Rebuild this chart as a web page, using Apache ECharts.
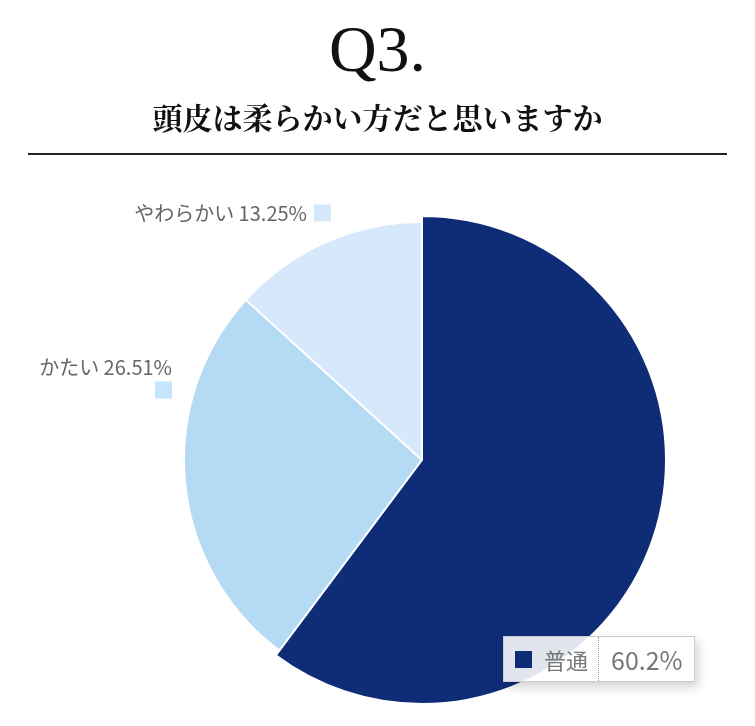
<!DOCTYPE html>
<html><head><meta charset="utf-8">
<script src="https://cdn.jsdelivr.net/npm/echarts@6/dist/echarts.min.js"></script>
<style>html,body{margin:0;padding:0;background:#fff}#c{width:755px;height:726px}</style>
</head><body><div id="c"></div>
<script>
var titleText = 'Q3.';
var subtitleText = '頭皮は柔らかい方だと思いますか';
var categories = ['普通', 'かたい', 'やわらかい'];
var percentLabels = ['60.2%', '26.51%', '13.25%'];
var values = [60.2, 26.51, 13.25];
var sliceColors = ['#0f2c76', '#b4daf4', '#d6e8fc'];
var markerColors = ['#0f2c76', '#c4e6fb', '#d6e8fc'];

var chart = echarts.init(document.getElementById('c'), null, {renderer: 'canvas'});
var labelFont = '"Noto Sans CJK JP", "Noto Sans", sans-serif';

var data = categories.map(function (c, i) {
  var item = {name: c, value: values[i], itemStyle: {color: sliceColors[i]}, emphasis: {itemStyle: {color: sliceColors[i]}}};
  if (i === 0) {
    item.label = {show: false};
  } else if (i === 1) {
    item.label = {formatter: '{t|' + c + ' ' + percentLabels[i] + '}\n{sq1|}'};
  } else {
    item.label = {formatter: '{t|' + c + ' ' + percentLabels[i] + '}{sp|}{sq2|}'};
  }
  return item;
});

chart.setOption({
  animation: false,
  title: [{
    text: titleText, left: 'center', top: 16,
    textStyle: {fontFamily: '"Liberation Serif", "DejaVu Serif", serif', fontSize: 66, fontWeight: 'normal', color: '#111'}
  }, {
    text: subtitleText, left: 'center', top: 98,
    textStyle: {fontFamily: '"Noto Serif CJK JP", "Noto Sans CJK JP", serif', fontSize: 30, fontWeight: 'bold', color: '#111'}
  }],
  graphic: [{
    type: 'line', shape: {x1: 28, y1: 154, x2: 727, y2: 154},
    style: {stroke: '#222', lineWidth: 2}
  }],
  tooltip: {
    trigger: 'item',
    alwaysShowContent: true,
    transitionDuration: 0,
    showDelay: 0,
    padding: 0,
    borderWidth: 1,
    borderColor: '#cccccc',
    borderRadius: 0,
    backgroundColor: 'rgba(255,255,255,0.88)',
    extraCssText: 'box-shadow: 3px 5px 10px rgba(0,0,0,0.18);',
    position: [503, 636],
    formatter: function (p) {
      return '<div style="display:flex;align-items:center;height:44px;font-family:' + "'Noto Sans CJK JP','Noto Sans',sans-serif" + ';color:#777;">' +
        '<span style="display:inline-block;width:17px;height:17px;background:' + markerColors[p.dataIndex] + ';margin-left:11px;margin-right:12px;"></span>' +
        '<span style="font-size:22px;line-height:44px;padding-right:10px;">' + p.name + '</span>' +
        '<span style="display:inline-block;height:44px;border-left:1px dotted #999;"></span>' +
        '<span style="font-size:25px;line-height:44px;padding:0 11px 0 12px;">' + percentLabels[p.dataIndex] + '</span>' +
        '</div>';
    }
  },
  series: [{
    type: 'pie',
    center: [422, 460],
    radius: [0, 238],
    startAngle: 90,
    clockwise: true,
    avoidLabelOverlap: false,
    itemStyle: {borderColor: '#fff', borderWidth: 2},
    emphasis: {scale: true, scaleSize: 6, label: {show: true}},
    labelLine: {show: false},
    label: {
      show: true,
      position: 'outside',
      align: 'right',
      rich: {
        t: {fontFamily: labelFont, fontSize: 20, color: '#666', lineHeight: 22},
        sp: {width: 7, height: 17},
        sq1: {width: 17, height: 17, backgroundColor: markerColors[1], lineHeight: 24},
        sq2: {width: 17, height: 17, backgroundColor: markerColors[2]}
      }
    },
    labelLayout: function (params) {
      if (params.dataIndex === 1) {
        return {x: 172, y: 379, align: 'right', verticalAlign: 'middle'};
      }
      if (params.dataIndex === 2) {
        return {x: 331, y: 213, align: 'right', verticalAlign: 'middle'};
      }
      return {};
    },
    data: data
  }]
});

chart.dispatchAction({type: 'highlight', seriesIndex: 0, dataIndex: 0});
chart.dispatchAction({type: 'showTip', seriesIndex: 0, dataIndex: 0});
</script>
</body></html>
